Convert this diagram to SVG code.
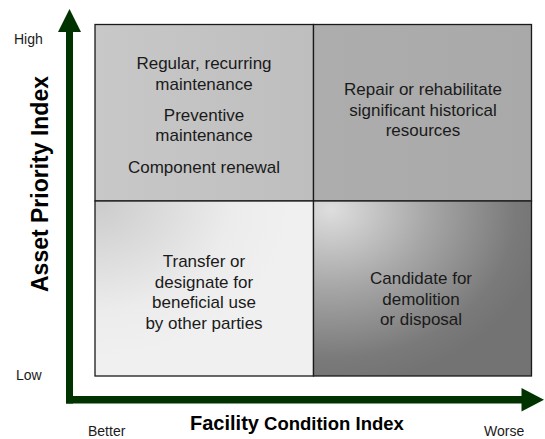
<svg xmlns="http://www.w3.org/2000/svg" width="545" height="439" viewBox="0 0 545 439">
  <style>
    .q { stroke: #1a1a1a; stroke-width: 1.3; }
    .qt { font-family: "Liberation Sans", Arial, sans-serif; font-size: 17px; fill: #1a1a1a; text-anchor: middle; }
    .ax { font-family: "Liberation Sans", Arial, sans-serif; font-size: 14px; fill: #1a1a1a; }
    .title { font-family: "Liberation Sans", Arial, sans-serif; font-weight: bold; fill: #000; }
    .axis { fill: #003300; }
  </style>
  <defs>
    <linearGradient id="gTL" x1="0" y1="0" x2="1" y2="0">
      <stop offset="0" stop-color="#c8c8c8"/>
      <stop offset="1" stop-color="#bebebe"/>
    </linearGradient>
    <linearGradient id="gTR" x1="0" y1="0" x2="1" y2="0">
      <stop offset="0" stop-color="#adadad"/>
      <stop offset="1" stop-color="#a9a9a9"/>
    </linearGradient>
    <radialGradient id="gBL" cx="0" cy="0" r="0.9" fx="0" fy="0">
      <stop offset="0" stop-color="#cbcbcb"/>
      <stop offset="0.7" stop-color="#ececec"/>
      <stop offset="1" stop-color="#f0f0f0"/>
    </radialGradient>
    <radialGradient id="gBR" cx="0.08" cy="0.05" r="1.0" fx="0.08" fy="0.05">
      <stop offset="0" stop-color="#dedede"/>
      <stop offset="0.45" stop-color="#a6a6a6"/>
      <stop offset="0.85" stop-color="#7a7a7a"/>
      <stop offset="1" stop-color="#737373"/>
    </radialGradient>
  </defs>

  <g id="q-top-left">
    <rect class="q" x="95" y="24.5" width="218.5" height="176.5" fill="url(#gTL)"/>
    <text class="qt" x="204" y="69">Regular, recurring</text>
    <text class="qt" x="204" y="90">maintenance</text>
    <text class="qt" x="204" y="121">Preventive</text>
    <text class="qt" x="204" y="141">maintenance</text>
    <text class="qt" x="204" y="173">Component renewal</text>
  </g>

  <g id="q-top-right">
    <rect class="q" x="313.5" y="24.5" width="218" height="176.5" fill="url(#gTR)"/>
    <text class="qt" x="423" y="95">Repair or rehabilitate</text>
    <text class="qt" x="423" y="115.5">significant historical</text>
    <text class="qt" x="423" y="136">resources</text>
  </g>

  <g id="q-bottom-left">
    <rect class="q" x="95" y="201" width="218.5" height="175" fill="url(#gBL)"/>
    <text class="qt" x="204" y="267">Transfer or</text>
    <text class="qt" x="204" y="287.5">designate for</text>
    <text class="qt" x="204" y="308">beneficial use</text>
    <text class="qt" x="204" y="328.5">by other parties</text>
  </g>

  <g id="q-bottom-right">
    <rect class="q" x="313.5" y="201" width="218" height="175" fill="url(#gBR)"/>
    <text class="qt" x="421" y="284">Candidate for</text>
    <text class="qt" x="421" y="304.5">demolition</text>
    <text class="qt" x="421" y="325">or disposal</text>
  </g>

  <g id="connectors">
    <rect class="axis" x="66" y="30" width="7" height="373.5"/>
    <polygon class="axis" points="69.5,9 58,32 81,32"/>
    <rect class="axis" x="66" y="396" width="457" height="7.5"/>
    <polygon class="axis" points="544,399.7 521.5,388 521.5,411.4"/>
  </g>

  <g id="labels">
    <text class="ax" x="14" y="43.5">High</text>
    <text class="ax" x="16" y="380">Low</text>
    <text class="ax" x="88" y="436">Better</text>
    <text class="ax" x="484" y="436">Worse</text>
    <text class="title" x="190" y="430"><tspan font-size="20">Facility</tspan><tspan font-size="18.5"> Condition Index</tspan></text>
    <text class="title" font-size="23" text-anchor="middle" transform="translate(48,184) rotate(-90)">Asset Priority Index</text>
  </g>
</svg>
